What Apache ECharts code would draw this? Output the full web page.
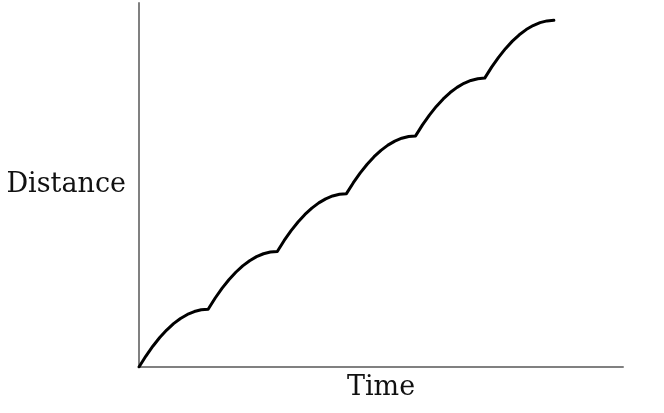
<!DOCTYPE html>
<html>
<head>
<meta charset="utf-8">
<script src="https://cdn.jsdelivr.net/npm/echarts@6/dist/echarts.min.js"></script>
<style>html,body{margin:0;padding:0;background:#fff;}#c{width:664px;height:413px;}</style>
</head>
<body>
<div id="c"></div>
<script>
const timeValues = [
  0.0,0.1,0.2,0.3,0.4,0.5,0.6,0.7,0.8,0.9,
  1.0,1.1,1.2,1.3,1.4,1.5,1.6,1.7,1.8,1.9,
  2.0,2.1,2.2,2.3,2.4,2.5,2.6,2.7,2.8,2.9,
  3.0,3.1,3.2,3.3,3.4,3.5,3.6,3.7,3.8,3.9,
  4.0,4.1,4.2,4.3,4.4,4.5,4.6,4.7,4.8,4.9,
  5.0,5.1,5.2,5.3,5.4,5.5,5.6,5.7,5.8,5.9,
  6.0
];
const distanceValues = [
  0.00,0.19,0.36,0.51,0.64,0.75,0.84,0.91,0.96,0.99,
  1.00,1.19,1.36,1.51,1.64,1.75,1.84,1.91,1.96,1.99,
  2.00,2.19,2.36,2.51,2.64,2.75,2.84,2.91,2.96,2.99,
  3.00,3.19,3.36,3.51,3.64,3.75,3.84,3.91,3.96,3.99,
  4.00,4.19,4.36,4.51,4.64,4.75,4.84,4.91,4.96,4.99,
  5.00,5.19,5.36,5.51,5.64,5.75,5.84,5.91,5.96,5.99,
  6.00
];
const xName = 'Time';
const yName = 'Distance';

const chart = echarts.init(document.getElementById('c'), null, {renderer: 'canvas'});
const pts = timeValues.map((t, i) => [t, distanceValues[i]]);
const axisLine = {show: true, onZero: false, lineStyle: {color: '#808080', width: 2}};
const nameStyle = {fontFamily: 'DejaVu Serif', fontSize: 27, color: '#111'};
chart.setOption({
  animation: false,
  grid: {left: 139, right: 41, top: 3, bottom: 46},
  xAxis: {
    type: 'value', min: 0, max: 7,
    name: xName, nameLocation: 'middle', nameGap: 7, nameTextStyle: nameStyle,
    axisLine: axisLine, axisTick: {show: false}, axisLabel: {show: false}, splitLine: {show: false}
  },
  yAxis: {
    type: 'value', min: 0, max: 6.3,
    name: yName, nameLocation: 'middle', nameRotate: 0, nameGap: 13, nameTextStyle: Object.assign({align: 'right'}, nameStyle),
    axisLine: axisLine, axisTick: {show: false}, axisLabel: {show: false}, splitLine: {show: false}
  },
  series: [{
    type: 'line', data: pts, showSymbol: false, smooth: false,
    lineStyle: {color: '#000', width: 3, join: 'round', cap: 'round'}
  }]
});
</script>
</body>
</html>
